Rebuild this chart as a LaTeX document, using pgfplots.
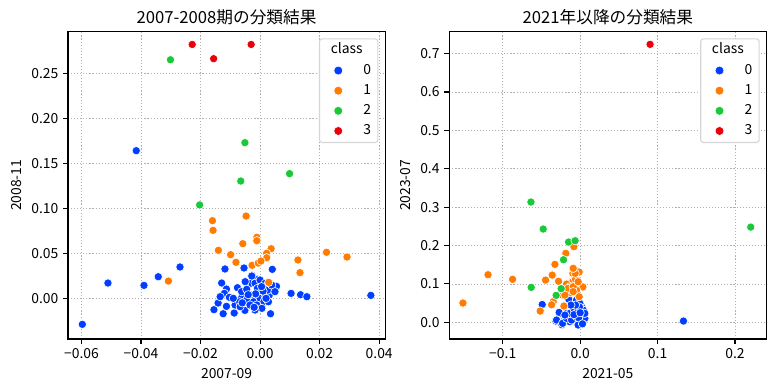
\documentclass[border=0pt]{standalone}
\usepackage{pgfplots}
\pgfplotsset{compat=1.18}
\usepackage{fontspec}
\setmainfont{Noto Sans CJK JP}
\definecolor{cblue}{HTML}{023EFF}
\definecolor{corange}{HTML}{FF7C00}
\definecolor{cgreen}{HTML}{1AC938}
\definecolor{cred}{HTML}{E8000B}
\definecolor{lgray}{HTML}{D6D6D6}
\definecolor{ggray}{HTML}{B0B0B0}
\pgfplotsset{
  myaxis/.style={
    scale only axis,
    width=228.3pt, height=221.3pt,
    anchor=north west,
    axis line style={line width=0.8pt, black},
    tick align=outside,
    major tick length=3.5pt,
    every tick/.style={black, line width=0.8pt},
    xtick pos=bottom, ytick pos=left,
    scaled x ticks=false, scaled y ticks=false,
    grid=major,
    grid style={ggray, line width=0.6pt, dash pattern=on 0.8pt off 1.4pt},
    ticklabel style={font=\fontsize{10}{12}\selectfont},
    label style={font=\fontsize{10}{12}\selectfont},
    title style={font=\fontsize{12}{14}\selectfont, at={(0.5,1)}, anchor=base},
    legend style={at={(1,1)}, anchor=north east, xshift=-4.8pt, yshift=-4.8pt,
      draw=lgray, line width=0.8pt, rounded corners=2pt, fill=white,
      inner xsep=5pt, inner ysep=3.5pt, row sep=4.9pt, column sep=0pt,
      font=\fontsize{10}{12}\selectfont,
      nodes={inner sep=0pt, text height=7.3pt, text depth=2.3pt}},
    legend cell align=right,
    pts/.style={only marks, mark=*, mark size=3.0pt, mark options={draw=white, line width=0.45pt, fill=##1}, forget plot},
  },
}
\newcommand{\legstuff}{%
  \addlegendimage{empty legend}\addlegendentry{\hspace*{-30pt}class\hspace*{4pt}}
  \addlegendimage{only marks, mark=*, mark size=3.2pt, mark options={fill=cblue, draw=white, line width=0.4pt}}\addlegendentry{\hspace*{14.8pt}0}
  \addlegendimage{only marks, mark=*, mark size=3.2pt, mark options={fill=corange, draw=white, line width=0.4pt}}\addlegendentry{1}
  \addlegendimage{only marks, mark=*, mark size=3.2pt, mark options={fill=cgreen, draw=white, line width=0.4pt}}\addlegendentry{2}
  \addlegendimage{only marks, mark=*, mark size=3.2pt, mark options={fill=cred, draw=white, line width=0.4pt}}\addlegendentry{3}
}
\begin{document}
\begin{tikzpicture}
\path[use as bounding box] (0,0) rectangle (558pt,-280.8pt);
% ---------------- left ----------------
\begin{axis}[myaxis, at={(49.0pt,-22.8pt)},
  xmin=-0.0645, xmax=0.042, ymin=-0.0452, ymax=0.2962,
  xtick={-0.06,-0.04,-0.02,0,0.02,0.04},
  xticklabels={−0.06,−0.04,−0.02,0.00,0.02,0.04},
  ytick={0,0.05,0.1,0.15,0.2,0.25},
  yticklabels={0.00,0.05,0.10,0.15,0.20,0.25},
  xlabel={2007-09}, ylabel={2008-11},
  title={2007-2008期の分類結果}]
\addplot[pts=cblue] coordinates {
(-0.0416,0.164) (-0.0269,0.0348) (-0.0342,0.024) (-0.0511,0.017) (-0.039,0.0144)
(-0.0597,-0.0289) (0.0372,0.0033) (0.0104,0.0055) (0.0136,0.004) (0.0157,0.0018)
(-0.0118,0.0326) (-0.0054,0.0337) (0.0041,0.0322) (0.0055,0.0133) (0.0035,-0.0171)
(-0.0155,-0.0126) (-0.0124,-0.0171) (-0.0087,-0.0163) (-0.0051,-0.0134) (-0.0113,-0.0089)
(-0.0141,-0.0052) (-0.0129,0.017) (-0.0113,0.0103) (-0.0076,0.0118) (-0.0027,0.0255)
(-0.0029,0.0167) (-0.0009,0.0211) (-0.012,0.0055) (-0.0103,0.0011) (-0.0134,0.0018)
(-0.0084,-0.0074) (-0.0062,0.0007) (-0.0069,-0.0038) (-0.0017,0.0167) (0,0.0203)
(-0.0009,0.011) (-0.0031,0.0037) (-0.0045,-0.0019) (-0.0022,-0.0038) (0,0)
(0.0017,0.0018) (0.0031,0.0037) (0.0025,0.0092) (0.0039,0.0148) (0.0017,0.0167)
(0.0013,-0.0038) (-0.0011,-0.0074) (-0.0034,-0.0074) (-0.0067,-0.0093) (-0.009,0)
(0.0006,-0.0111) (-0.0017,-0.013) (0.0028,-0.0038) (0.005,0.0074) (-0.005,0.0185)
(-0.0062,0.0074) (-0.0045,0.01) (-0.0028,0.0248) (-0.0015,0.005) (0.001,0.008)
(-0.004,0.004) (0.002,0.000) (-0.006,-0.005) (-0.002,-0.010) (0.0005,0.013)
};
\addplot[pts=corange] coordinates {
(-0.0047,0.0914) (-0.0160,0.0863) (-0.0158,0.0755) (-0.0011,0.0678) (-0.0011,0.064)
(-0.0058,0.0607) (-0.0140,0.0533) (0.0037,0.0551) (0.0022,0.050) (0.0022,0.0451)
(-0.0099,0.0485) (-0.0081,0.040) (-0.0027,0.0367) (-0.0006,0.0392) (0.0003,0.0414)
(0.0127,0.0426) (0.0134,0.0285) (0.0223,0.0511) (0.0292,0.0459) (-0.0308,0.0192)
(0.0029,0.0178)
};
\addplot[pts=cgreen] coordinates {
(-0.0301,0.265) (-0.0051,0.1729) (0.0099,0.1385) (-0.0065,0.1303) (-0.0203,0.1037)
};
\addplot[pts=cred] coordinates {
(-0.0228,0.282) (-0.0030,0.282) (-0.0156,0.2662)
};
\legstuff
\end{axis}
% ---------------- right ----------------
\begin{axis}[myaxis, at={(323.5pt,-22.8pt)},
  xmin=-0.169, xmax=0.2405, ymin=-0.0435, ymax=0.757,
  xtick={-0.1,0,0.1,0.2},
  xticklabels={−0.1,0.0,0.1,0.2},
  ytick={0,0.1,0.2,0.3,0.4,0.5,0.6,0.7},
  yticklabels={0.0,0.1,0.2,0.3,0.4,0.5,0.6,0.7},
  xlabel={2021-05}, ylabel={2023-07},
  title={2021年以降の分類結果}]
\addplot[pts=cblue] coordinates {
(0.1334,0.0034) (-0.049,0.0464) (-0.0146,0.0599) (-0.009,0.039) (-0.0262,0.0234)
(-0.0314,0.0034) (-0.0236,-0.0062) (-0.0197,0.0078) (-0.0133,0.0016) (0.0018,0.0406)
(0.0048,0.0268) (0.0018,0.0104) (-0.0017,-0.0026) (-0.0047,0.058) (-0.0111,0.0276)
(-0.0068,0.0146) (-0.0176,0.0234) (-0.0047,0.0016) (-0.0099,0.006) (-0.0271,0.026)
(-0.0305,0.006) (-0.0227,-0.0026) (-0.0004,0.0495) (0.0039,0.032) (-0.0176,0.0104)
(-0.0111,0.006) (-0.0047,0.0146) (0.0018,0.006) (-0.0026,-0.007) (0.006,0.0104)
(-0.0064,0.0268) (-0.0133,0.0234) (-0.0197,0.019) (-0.0004,0.019) (0.006,0.0234)
(-0.008,0.035) (-0.003,0.030) (-0.001,0.040) (-0.006,0.045) (-0.002,0.012)
(0.003,-0.004) (-0.008,0.020) (-0.012,0.045) (0.000,0.025)
};
\addplot[pts=corange] coordinates {
(-0.0081,0.197) (-0.0185,0.1797) (-0.0326,0.151) (-0.0077,0.1396) (-0.0013,0.131)
(-0.0094,0.1276) (-0.119,0.124) (-0.0361,0.123) (-0.0873,0.112) (-0.0447,0.110)
(-0.0279,0.1068) (-0.0099,0.1057) (-0.006,0.112) (-0.0176,0.0997) (-0.0129,0.0928)
(0.0035,0.092) (-0.0047,0.084) (-0.012,0.077) (-0.0013,0.0667) (-0.0227,0.0711)
(-0.0348,0.0537) (-0.0369,0.0458) (-0.1514,0.0503) (-0.0516,0.0294) (-0.021,0.0424)
(-0.0155,0.0885) (-0.009,0.0927) (-0.009,0.080) (-0.0197,0.071) (-0.0026,0.1057)
(-0.0064,0.1276) (-0.009,0.1406)
};
\addplot[pts=cgreen] coordinates {
(-0.0636,0.3133) (-0.0477,0.243) (-0.015,0.209) (-0.0065,0.2125) (-0.0215,0.163)
(-0.0632,0.0911) (-0.0245,0.0876) (-0.031,0.0703) (0.2203,0.248)
};
\addplot[pts=cred] coordinates {
(0.0903,0.724)
};
\legstuff
\end{axis}
\end{tikzpicture}
\end{document}
